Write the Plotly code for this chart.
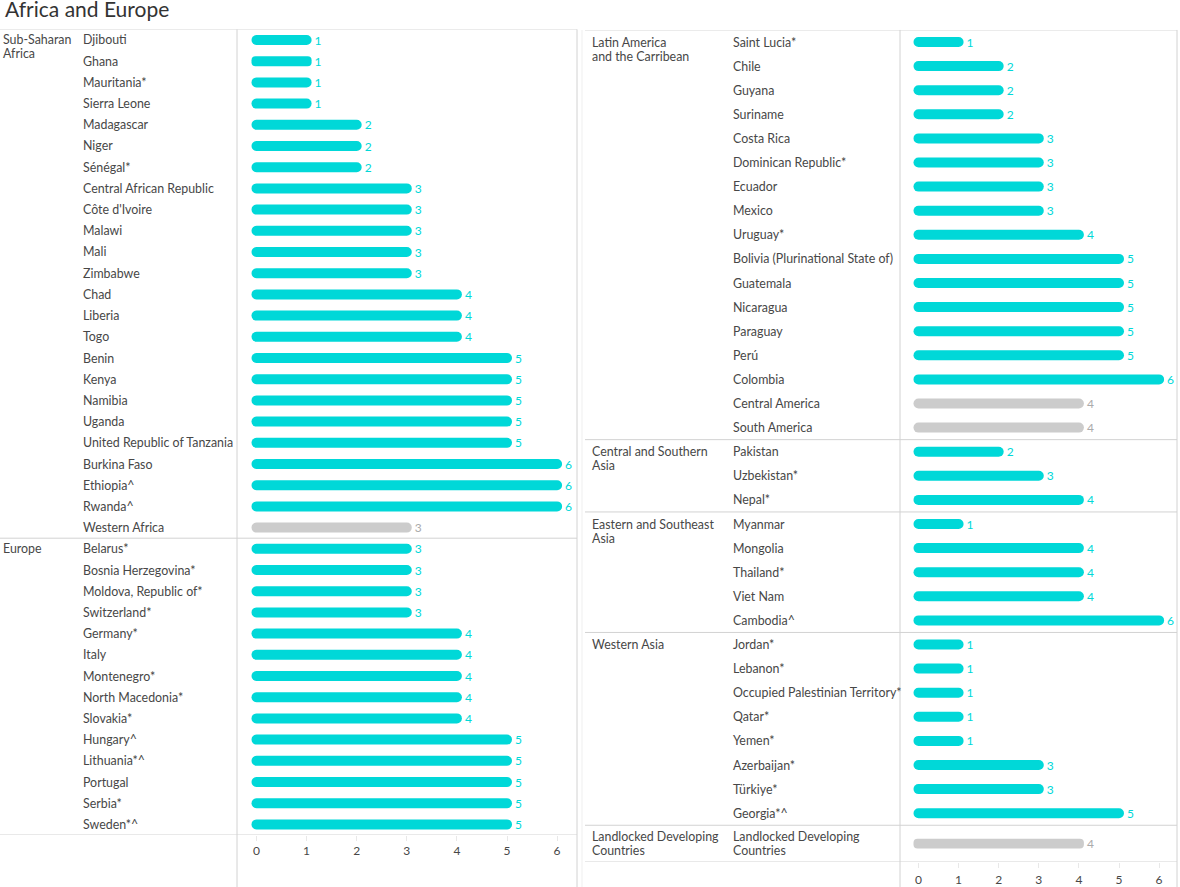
import plotly.graph_objects as go

# ---------------- data ----------------
ssa_countries = ["Djibouti", "Ghana", "Mauritania*", "Sierra Leone", "Madagascar", "Niger", "Sénégal*",
                 "Central African Republic", "Côte d'Ivoire", "Malawi", "Mali", "Zimbabwe", "Chad", "Liberia",
                 "Togo", "Benin", "Kenya", "Namibia", "Uganda", "United Republic of Tanzania", "Burkina Faso",
                 "Ethiopia^", "Rwanda^", "Western Africa"]
ssa_values = [1, 1, 1, 1, 2, 2, 2, 3, 3, 3, 3, 3, 4, 4, 4, 5, 5, 5, 5, 5, 6, 6, 6, 3]

europe_countries = ["Belarus*", "Bosnia Herzegovina*", "Moldova, Republic of*", "Switzerland*", "Germany*",
                    "Italy", "Montenegro*", "North Macedonia*", "Slovakia*", "Hungary^", "Lithuania*^",
                    "Portugal", "Serbia*", "Sweden*^"]
europe_values = [3, 3, 3, 3, 4, 4, 4, 4, 4, 5, 5, 5, 5, 5]

latam_countries = ["Saint Lucia*", "Chile", "Guyana", "Suriname", "Costa Rica", "Dominican Republic*",
                   "Ecuador", "Mexico", "Uruguay*", "Bolivia (Plurinational State of)", "Guatemala",
                   "Nicaragua", "Paraguay", "Perú", "Colombia", "Central America", "South America"]
latam_values = [1, 2, 2, 2, 3, 3, 3, 3, 4, 5, 5, 5, 5, 5, 6, 4, 4]

csa_countries = ["Pakistan", "Uzbekistan*", "Nepal*"]
csa_values = [2, 3, 4]

esa_countries = ["Myanmar", "Mongolia", "Thailand*", "Viet Nam", "Cambodia^"]
esa_values = [1, 4, 4, 4, 6]

wa_countries = ["Jordan*", "Lebanon*", "Occupied Palestinian Territory*", "Qatar*", "Yemen*",
                "Azerbaijan*", "Türkiye*", "Georgia*^"]
wa_values = [1, 1, 1, 1, 1, 3, 3, 5]

lldc_countries = ["Landlocked Developing<br>Countries"]
lldc_values = [4]

aggregates = ["Western Africa", "Central America", "South America", "Landlocked Developing<br>Countries"]

left_groups = [("Sub-Saharan<br>Africa", ssa_countries, ssa_values),
               ("Europe", europe_countries, europe_values)]
right_groups = [("Latin America<br>and the Carribean", latam_countries, latam_values),
                ("Central and Southern<br>Asia", csa_countries, csa_values),
                ("Eastern and Southeast<br>Asia", esa_countries, esa_values),
                ("Western Asia", wa_countries, wa_values),
                ("Landlocked Developing<br>Countries", lldc_countries, lldc_values)]

tick_vals = [0, 1, 2, 3, 4, 5, 6]

# ---------------- style ----------------
W = 1180
HF = 892            # figure height (a little taller than the window so the frame lines reach the bottom)
SCALE_Y = 1.0
CYAN = "#00D8D8"
GREY = "#CCCCCC"
GREY_TXT = "#ABABAB"
TXT = "#474747"
LINE = "#D2D2D2"
FONT = "Lato"
FS = 12.4
LINE_GAP = 14


def px(x):
    return x / W


def py(y):
    return max(0.0, 1 - (y / SCALE_Y) / HF)


fig = go.Figure()
annotations = []
shapes = []


def add_label(x_px, y, yref, text, mode):
    lines = text.split("<br>")
    n = len(lines)
    for i, ln in enumerate(lines):
        if mode == "top":
            shift = -i * LINE_GAP
        else:
            shift = ((n - 1) / 2 - i) * LINE_GAP
        annotations.append(dict(x=px(x_px), xref="paper", y=y, yref=yref, text=ln, xanchor="left",
                                yanchor="middle", yshift=shift, showarrow=False,
                                font=dict(size=FS, color=TXT, family=FONT)))


# ---------- left panel ----------
L_unit, L_zero = 50.1, 256.5
L_x0, L_x1 = 237, 577
L_row0, L_step = 40.0, 21.2
L_pad = 5 / L_unit

rows, names, vals = [], [], []
group_starts = []
r = 0
for gname, cs, vs in left_groups:
    group_starts.append((gname, r))
    for c, v in zip(cs, vs):
        rows.append(r)
        names.append(c)
        vals.append(v)
        r += 1
L_nrows = r
cols = [GREY if n in aggregates else CYAN for n in names]
tcols = [GREY_TXT if n in aggregates else CYAN for n in names]
fig.add_trace(go.Bar(
    y=rows, x=[v + 2 * L_pad for v in vals], base=[-L_pad] * len(vals), orientation="h",
    width=10 / L_step, marker=dict(color=cols, cornerradius=5, line=dict(width=0)),
    text=[str(v) for v in vals], textposition="outside", cliponaxis=False, constraintext="none",
    textfont=dict(color=tcols, size=12, family=FONT),
    xaxis="x", yaxis="y", showlegend=False, hoverinfo="skip"))
for rr, n in zip(rows, names):
    add_label(81, rr, "y", n, "center")
for gname, rr in group_starts:
    add_label(1, rr, "y", gname, "top")

L_top = L_row0 - L_step / 2
L_bot = L_row0 + (L_nrows - 0.5) * L_step
div_rows = [-0.5] + [rr - 0.5 for _, rr in group_starts[1:]] + [L_nrows - 0.5]
for d in div_rows:
    shapes.append(dict(type="line", xref="paper", yref="y", x0=px(0), x1=px(L_x1), y0=d, y1=d,
                       line=dict(color=LINE, width=1)))
for xv in (L_x0, L_x1):
    shapes.append(dict(type="line", xref="paper", yref="paper", x0=px(xv), x1=px(xv), y0=py(L_top), y1=0,
                       line=dict(color=LINE, width=1)))

# ---------- right panel ----------
R_unit, R_zero = 40.1, 918.5
R_x0, R_x1 = 900, 1177
R_row0, R_step = 42.0, 24.1
R_pad = 5 / R_unit
R_bottom_px = 862

rows, names, vals = [], [], []
group_starts = []
r = 0
for gname, cs, vs in right_groups:
    group_starts.append((gname, r))
    for c, v in zip(cs, vs):
        if "<br>" in c:
            rr = ((r - 0.5) + (R_bottom_px - R_row0) / R_step) / 2
        else:
            rr = r
        rows.append(rr)
        names.append(c)
        vals.append(v)
        r += 1
cols = [GREY if n in aggregates else CYAN for n in names]
tcols = [GREY_TXT if n in aggregates else CYAN for n in names]
fig.add_trace(go.Bar(
    y=rows, x=[v + 2 * R_pad for v in vals], base=[-R_pad] * len(vals), orientation="h",
    width=10 / R_step, marker=dict(color=cols, cornerradius=5, line=dict(width=0)),
    text=[str(v) for v in vals], textposition="outside", cliponaxis=False, constraintext="none",
    textfont=dict(color=tcols, size=12, family=FONT),
    xaxis="x2", yaxis="y2", showlegend=False, hoverinfo="skip"))
for rr, n in zip(rows, names):
    add_label(731, rr, "y2", n, "center")
for gi, (gname, rr) in enumerate(group_starts):
    if gi == len(group_starts) - 1 and "<br>" in names[-1]:
        add_label(590, rows[-1], "y2", gname, "center")
    else:
        add_label(590, rr, "y2", gname, "top")

R_top = R_row0 - R_step / 2
R_bot_row = (R_bottom_px - R_row0) / R_step
div_rows = [-0.5] + [rr - 0.5 for _, rr in group_starts[1:]] + [R_bot_row]
for d in div_rows:
    shapes.append(dict(type="line", xref="paper", yref="y2", x0=px(585), x1=px(R_x1), y0=d, y1=d,
                       line=dict(color=LINE, width=1)))
for xv in (R_x0, R_x1):
    shapes.append(dict(type="line", xref="paper", yref="paper", x0=px(xv), x1=px(xv), y0=py(R_top), y1=0,
                       line=dict(color=LINE, width=1)))
shapes.append(dict(type="line", xref="paper", yref="paper", x0=px(582), x1=px(582), y0=py(R_top), y1=0,
                   line=dict(color="#EFEFEF", width=1)))

# title
annotations.append(dict(x=px(3), xref="paper", y=py(9), yref="paper", text="Africa and Europe",
                        xanchor="left", yanchor="middle", showarrow=False,
                        font=dict(size=21, color="#333333", family=FONT)))

axis_common = dict(showgrid=False, zeroline=False, showline=False, tickvals=tick_vals,
                   ticks="outside", ticklen=5, tickcolor="#E8E8E8",
                   tickfont=dict(size=12, color=TXT, family=FONT), fixedrange=True)

fig.update_layout(
    width=W, height=HF, autosize=False,
    margin=dict(l=0, r=0, t=0, b=0),
    paper_bgcolor="white", plot_bgcolor="white",
    barmode="overlay",
    showlegend=False,
    xaxis=dict(domain=[px(L_x0), px(L_x1)],
               range=[(L_x0 - L_zero) / L_unit, (L_x1 - L_zero) / L_unit], anchor="y",
               ticklabelstandoff=0, **axis_common),
    yaxis=dict(domain=[py(L_bot), py(L_top)], range=[L_nrows - 0.5, -0.5], anchor="x",
               showticklabels=False, showgrid=False, zeroline=False, ticks="", fixedrange=True),
    xaxis2=dict(domain=[px(R_x0), px(R_x1)],
                range=[(R_x0 - R_zero) / R_unit, (R_x1 - R_zero) / R_unit], anchor="y2",
                ticklabelstandoff=2, **axis_common),
    yaxis2=dict(domain=[py(R_bottom_px), py(R_top)], range=[R_bot_row, -0.5], anchor="x2",
                showticklabels=False, showgrid=False, zeroline=False, ticks="", fixedrange=True),
    annotations=annotations,
    shapes=shapes,
    font=dict(family=FONT),
)

page_fix = ("var s=document.documentElement.style;s.margin='0';s.padding='0';s.overflow='hidden';"
            "var b=document.body.style;b.margin='0';b.padding='0';b.overflow='hidden';")
fig.write_html("out.html", config={"displayModeBar": False, "responsive": False},
               default_width="1180px", default_height="892px", post_script=page_fix)
